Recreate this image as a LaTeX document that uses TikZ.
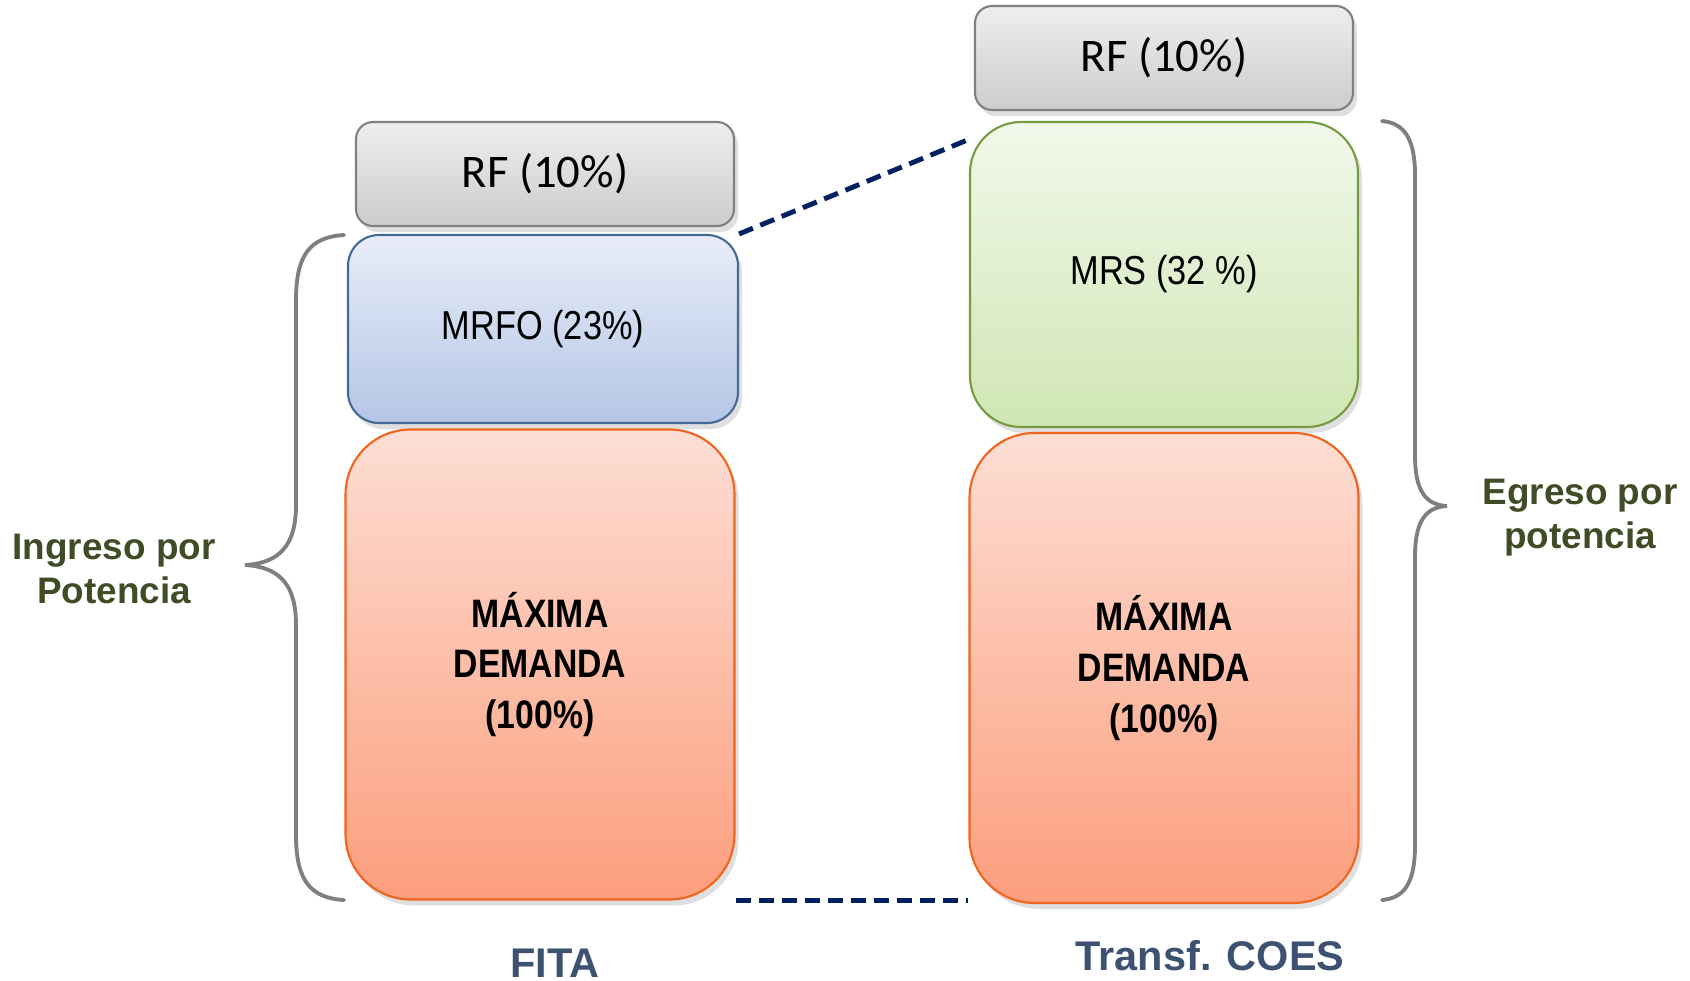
\documentclass[tikz,border=0pt]{standalone}
\usepackage{fontspec}
\setmainfont{Liberation Sans}
\newfontfamily\calfont{Carlito}
\newfontfamily\narrowfont[FakeStretch=0.85]{Liberation Sans}
\usetikzlibrary{shadows,calc}

\definecolor{rfArriba}{RGB}{238,238,240}
\definecolor{rfAbajo}{RGB}{204,204,206}
\definecolor{rfBorde}{RGB}{128,128,128}
\definecolor{foArriba}{RGB}{232,237,248}
\definecolor{foAbajo}{RGB}{180,198,230}
\definecolor{foBorde}{RGB}{70,105,150}
\definecolor{rsArriba}{RGB}{241,248,234}
\definecolor{rsAbajo}{RGB}{208,230,180}
\definecolor{rsBorde}{RGB}{118,155,65}
\definecolor{mdArriba}{RGB}{253,222,212}
\definecolor{mdAbajo}{RGB}{252,158,125}
\definecolor{mdBorde}{RGB}{240,100,30}
\definecolor{llave}{RGB}{127,127,131}
\definecolor{verdeTexto}{RGB}{63,76,38}
\definecolor{azulTexto}{RGB}{60,82,112}
\definecolor{azulLinea}{RGB}{0,32,96}

\tikzset{
  bloque/.style={draw, line width=0.6pt, inner sep=0pt, align=center,
    drop shadow={opacity=0.25, shadow xshift=0.4mm, shadow yshift=-0.6mm}},
  rfbox/.style={bloque, draw=rfBorde, top color=rfArriba, bottom color=rfAbajo,
    minimum width=37.8mm, minimum height=10.4mm, rounded corners=1.7mm,
    font=\calfont\fontsize{13.3}{16}\selectfont},
  mrfobox/.style={bloque, draw=foBorde, top color=foArriba, bottom color=foAbajo,
    minimum width=39mm, minimum height=18.8mm, rounded corners=3.1mm,
    font=\narrowfont\fontsize{11.5}{14}\selectfont},
  mrsbox/.style={bloque, draw=rsBorde, top color=rsArriba, bottom color=rsAbajo,
    minimum width=38.8mm, minimum height=30.5mm, rounded corners=5.1mm,
    font=\narrowfont\fontsize{11.5}{14}\selectfont},
  mdbox/.style={bloque, draw=mdBorde, top color=mdArriba, bottom color=mdAbajo,
    minimum width=38.9mm, minimum height=47mm, rounded corners=6.5mm,
    font=\narrowfont\bfseries\fontsize{11.3}{14.5}\selectfont},
  llavebox/.style={draw=llave, line width=1.1pt, line cap=round},
  enlace/.style={draw=azulLinea, line width=1.4pt, dash pattern=on 1.5mm off 0.8mm},
  rotulo/.style={font=\bfseries\fontsize{10.5}{12.5}\selectfont, text=verdeTexto, align=center},
  pie/.style={font=\bfseries\fontsize{11.8}{14}\selectfont, text=azulTexto, anchor=base}
}

\begin{document}
\begin{tikzpicture}[x=0.1mm,y=-0.1mm]
  \useasboundingbox (0,0) rectangle (1690,980);

  % FITA
  \node[rfbox]   (rf1)   at (545,174)  {RF (10\%)};
  \node[mrfobox] (mrfo)  at (543,329)  {MRFO (23\%)};
  \node[mdbox]   (md1)   at (540,664.5)  {MÁXIMA\\DEMANDA\\(100\%)};

  % Transf. COES
  \node[rfbox]   (rf2)   at (1164,58)  {RF (10\%)};
  \node[mrsbox]  (mrs)   at (1164,274.5) {MRS (32 \%)};
  \node[mdbox]   (md2)   at (1164,668) {MÁXIMA\\DEMANDA\\(100\%)};

  \draw[enlace] (mrfo.north east) -- ($(mrs.north west)!0.06!(mrs.south west)$);
  \draw[enlace] (md1.south east) -- (md1.south east -| md2.west);

  \draw[llavebox] (344,235) .. controls (310,237) and (296,255) .. (296,300)
    -- (296,505) .. controls (296,545) and (280,563) .. (245,565)
    .. controls (280,567) and (296,585) .. (296,625)
    -- (296,835) .. controls (296,880) and (310,898) .. (344,900);
  \draw[llavebox] (1382,121) .. controls (1405,123) and (1415,140) .. (1415,175)
    -- (1415,455) .. controls (1415,490) and (1425,505) .. (1447,506)
    .. controls (1425,507) and (1415,522) .. (1415,557)
    -- (1415,845) .. controls (1415,882) and (1405,898) .. (1382,900);

  \node[rotulo] (ingreso) at (114,569) {Ingreso por\\Potencia};
  \node[rotulo] (egreso)  at (1580,518) {Egreso por\\potencia};

  \node[pie] (fita)  at (555,977)  {FITA};
  \node[pie] (coes)  at (1210,970) {Transf. COES};
\end{tikzpicture}
\end{document}
